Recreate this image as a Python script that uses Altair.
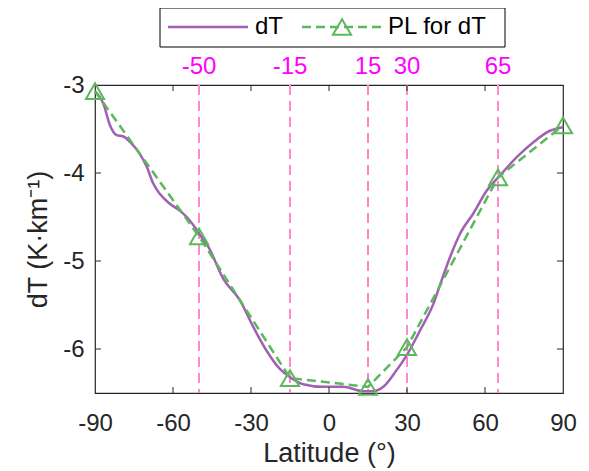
import altair as alt
import pandas as pd

# ---- data ----
lat_dt = [-90, -86.8, -84.2, -81.7, -79.1, -76.5, -73.3, -70.1, -67.6, -65, -61.2, -57.3,
          -54.7, -51.5, -49, -46.4, -40.7, -34.2, -29.1, -24, -18.8, -15, -9.9, -2.2, 5.5,
          13.2, 17, 20.9, 26, 30.5, 35, 40.1, 43.3, 46.5, 50.4, 55.5, 60.7, 65.1, 72.2,
          78.6, 85, 90]
val_dt = [-3.07, -3.21, -3.46, -3.57, -3.585, -3.65, -3.76, -3.93, -4.12, -4.24, -4.35, -4.43,
          -4.50, -4.62, -4.73, -4.84, -5.20, -5.45, -5.75, -6.02, -6.23, -6.32, -6.40, -6.43, -6.43,
          -6.48, -6.48, -6.43, -6.24, -6.04, -5.79, -5.49, -5.22, -4.96, -4.69, -4.46, -4.20, -4.05, -3.82,
          -3.65, -3.52, -3.48]
lat_pl = [-90, -50, -15, 15, 30, 65, 90]
val_pl = [-3.07, -4.72, -6.33, -6.43, -5.98, -4.05, -3.46]
breaks = [-50, -15, 15, 30, 65]
break_labels = ["-50", "-15", "15", "30", "65"]
x_ticks = [-90, -60, -30, 0, 30, 60, 90]
y_ticks = [-3, -4, -5, -6]
inner_x_ticks = [-60, -30, 0, 30, 60]
inner_y_ticks = [-4, -5, -6]

W, H = 468, 308
PURPLE = "#a25fb5"
GREEN = "#5cb85c"
PINK = "#ff88cc"
MAGENTA = "#ff00ff"
FONT = "Liberation Sans"

df_dt = pd.DataFrame({"lat": lat_dt, "val": val_dt})
df_pl = pd.DataFrame({"lat": lat_pl, "val": val_pl})
df_br = pd.DataFrame({"lat": breaks, "label": break_labels})
df_xt = pd.DataFrame({"lat": inner_x_ticks})
df_yt = pd.DataFrame({"val": inner_y_ticks})
one = pd.DataFrame({"k": [0]})

xscale = alt.Scale(domain=[-90, 90], nice=False, zero=False)
yscale = alt.Scale(domain=[-6.5, -3], nice=False, zero=False)

xenc = alt.X("lat:Q", scale=xscale,
             axis=alt.Axis(values=x_ticks, title="Latitude (°)", ticks=False, domain=False,
                           grid=False, labelPadding=18, titlePadding=5, labelFlush=False,
                           labelOverlap=False, labelExpr="'' + datum.value"))
yenc = alt.Y("val:Q", scale=yscale,
             axis=alt.Axis(values=y_ticks, title="dT (K·km⁻¹)", ticks=False, domain=False,
                           grid=False, labelPadding=11, titlePadding=10, labelFlush=False,
                           labelOverlap=False, labelExpr="'' + datum.value"))

vlines = alt.Chart(df_br).mark_rule(color=PINK, strokeWidth=2, strokeDash=[10, 6]).encode(
    x=alt.X("lat:Q", scale=xscale))
vlabels = alt.Chart(df_br).mark_text(color=MAGENTA, fontSize=24, baseline="middle", font=FONT).encode(
    x=alt.X("lat:Q", scale=xscale), y=alt.value(-18), text="label:N")

line_dt = alt.Chart(df_dt).mark_line(color=PURPLE, strokeWidth=2.5, interpolate="monotone").encode(
    x=xenc, y=yenc)
line_pl = alt.Chart(df_pl).mark_line(color=GREEN, strokeWidth=2.5, strokeDash=[9, 5]).encode(
    x=alt.X("lat:Q", scale=xscale), y=alt.Y("val:Q", scale=yscale))
pts_pl = alt.Chart(df_pl).mark_point(shape="triangle-up", filled=False, color=GREEN,
                                     strokeWidth=2, size=330, opacity=1).encode(
    x=alt.X("lat:Q", scale=xscale), y=alt.Y("val:Q", scale=yscale))

tick_col = "#262626"
xt_bot = alt.Chart(df_xt).mark_rule(color=tick_col, strokeWidth=1).encode(
    x=alt.X("lat:Q", scale=xscale), y=alt.value(H), y2=alt.value(H - 6))
xt_top = alt.Chart(df_xt).mark_rule(color=tick_col, strokeWidth=1).encode(
    x=alt.X("lat:Q", scale=xscale), y=alt.value(0), y2=alt.value(6))
yt_left = alt.Chart(df_yt).mark_rule(color=tick_col, strokeWidth=1).encode(
    y=alt.Y("val:Q", scale=yscale), x=alt.value(0), x2=alt.value(6))
yt_right = alt.Chart(df_yt).mark_rule(color=tick_col, strokeWidth=1).encode(
    y=alt.Y("val:Q", scale=yscale), x=alt.value(W - 6), x2=alt.value(W))

# ---- legend (drawn box above the plot) ----
LY = -58
leg_box = alt.Chart(one).mark_rect(fill="white", stroke="black", strokeWidth=1).encode(
    x=alt.value(65), x2=alt.value(410), y=alt.value(-77), y2=alt.value(-38))
leg_l1 = alt.Chart(one).mark_rule(color=PURPLE, strokeWidth=2.5).encode(
    x=alt.value(73), x2=alt.value(153), y=alt.value(LY))
leg_t1 = alt.Chart(one).mark_text(text="dT", align="left", baseline="middle", fontSize=24,
                                   font=FONT, color="black").encode(
    x=alt.value(160), y=alt.value(LY))
leg_l2 = alt.Chart(one).mark_rule(color=GREEN, strokeWidth=2.5, strokeDash=[9, 5]).encode(
    x=alt.value(207), x2=alt.value(287), y=alt.value(LY))
leg_p2 = alt.Chart(one).mark_point(shape="triangle-up", filled=False, color=GREEN, strokeWidth=2,
                                   size=330, opacity=1).encode(
    x=alt.value(247), y=alt.value(LY))
leg_t2 = alt.Chart(one).mark_text(text="PL for dT", align="left", baseline="middle", fontSize=24,
                                   font=FONT, color="black").encode(
    x=alt.value(293), y=alt.value(LY))

chart = alt.layer(
    vlines, line_dt, line_pl, pts_pl, vlabels,
    xt_bot, xt_top, yt_left, yt_right,
    leg_box, leg_l1, leg_t1, leg_l2, leg_p2, leg_t2,
).properties(
    width=W, height=H,
    autosize=alt.AutoSizeParams(type="none"),
    padding={"left": 87, "top": 77, "right": 18, "bottom": 76},
).configure_view(
    stroke=tick_col, strokeWidth=1.2
).configure_axis(
    labelFont=FONT, titleFont=FONT, labelFontSize=24, titleFontSize=27,
    labelColor=tick_col, titleColor=tick_col, titleFontWeight="normal",
)

chart.save("out.html", embed_options={"renderer": "svg", "actions": False})
